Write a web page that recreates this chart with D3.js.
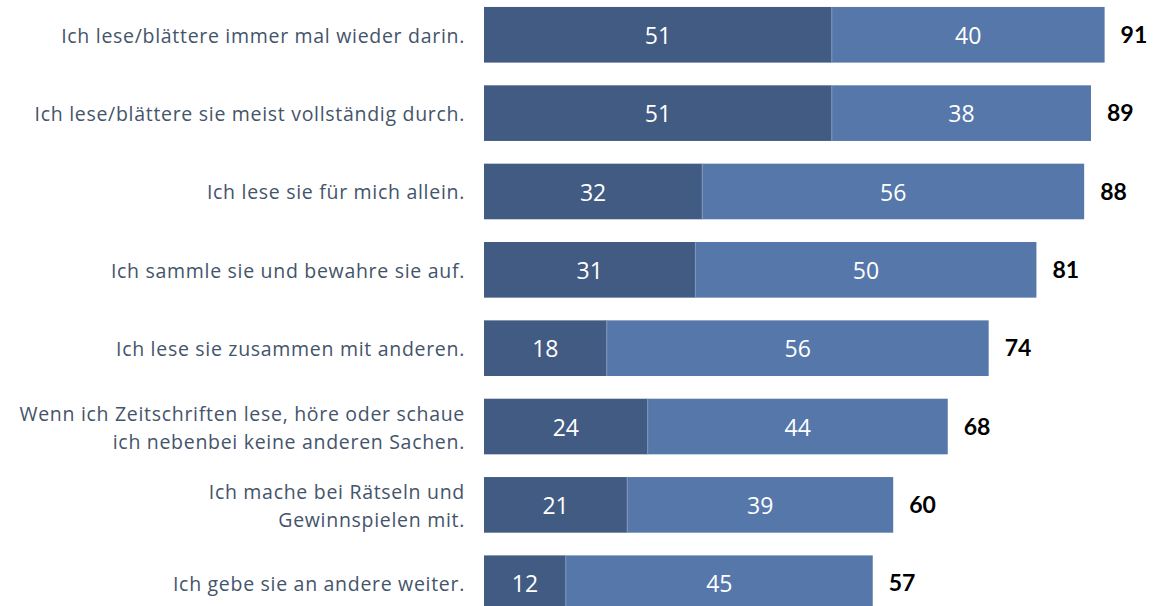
<!DOCTYPE html>
<html><head><meta charset="utf-8">
<script src="https://cdn.jsdelivr.net/npm/d3@7"></script>
<style>body{margin:0;background:#fff;} svg{display:block;}</style>
</head><body>
<svg id="chart" width="1154" height="606"></svg>
<script>
const categories = [
  ["Ich lese/blättere immer mal wieder darin."],
  ["Ich lese/blättere sie meist vollständig durch."],
  ["Ich lese sie für mich allein."],
  ["Ich sammle sie und bewahre sie auf."],
  ["Ich lese sie zusammen mit anderen."],
  ["Wenn ich Zeitschriften lese, höre oder schaue", "ich nebenbei keine anderen Sachen."],
  ["Ich mache bei Rätseln und", "Gewinnspielen mit."],
  ["Ich gebe sie an andere weiter."]
];
const seriesA = [51, 51, 32, 31, 18, 24, 21, 12];
const seriesB = [40, 38, 56, 50, 56, 44, 39, 45];
const totals  = [91, 89, 88, 81, 74, 68, 60, 57];

const svg = d3.select("#chart");
const x = d3.scaleLinear().domain([0, 100]).range([484, 484 + 682]);
const y = d3.scaleBand().domain(d3.range(categories.length)).range([-4, 622]).paddingInner(0.29).paddingOuter(0.14);

const colA = "#425B82", colB = "#5677AA";
const font = "'Open Sans', 'Noto Sans', sans-serif";
const boldFont = "Lato, 'Open Sans', sans-serif";

const rows = svg.selectAll("g.row").data(categories).join("g").attr("class","row");

rows.append("rect")
  .attr("x", x(0)).attr("y", (d,i)=>y(i))
  .attr("width", (d,i)=>x(seriesA[i])-x(0)).attr("height", y.bandwidth())
  .attr("fill", colA);
rows.append("rect")
  .attr("x", (d,i)=>x(seriesA[i])).attr("y", (d,i)=>y(i))
  .attr("width", (d,i)=>x(seriesA[i]+seriesB[i])-x(seriesA[i])).attr("height", y.bandwidth())
  .attr("fill", colB);
rows.append("line")
  .attr("x1", (d,i)=>x(seriesA[i])).attr("x2",(d,i)=>x(seriesA[i]))
  .attr("y1",(d,i)=>y(i)).attr("y2",(d,i)=>y(i)+y.bandwidth())
  .attr("stroke","#7f95bb").attr("stroke-width",1);

rows.append("text")
  .attr("x",(d,i)=>(x(0)+x(seriesA[i]))/2).attr("y",(d,i)=>y(i)+y.bandwidth()/2 + 1)
  .attr("dy","0.36em").attr("text-anchor","middle")
  .attr("fill","#fff").style("font-family",font).style("font-size","23px")
  .text((d,i)=>seriesA[i]);
rows.append("text")
  .attr("x",(d,i)=>(x(seriesA[i])+x(seriesA[i]+seriesB[i]))/2).attr("y",(d,i)=>y(i)+y.bandwidth()/2 + 1)
  .attr("dy","0.36em").attr("text-anchor","middle")
  .attr("fill","#fff").style("font-family",font).style("font-size","23px")
  .text((d,i)=>seriesB[i]);
rows.append("text")
  .attr("x",(d,i)=>x(totals[i])+16).attr("y",(d,i)=>y(i)+y.bandwidth()/2)
  .attr("dy","0.36em").attr("text-anchor","start")
  .attr("fill","#000").style("font-family",boldFont).style("font-size","23px").style("font-weight","bold")
  .text((d,i)=>totals[i]);

rows.each(function(d,i){
  const g = d3.select(this);
  const cy = y(i)+y.bandwidth()/2 + 1;
  const lh = 28;
  d.forEach((line,j)=>{
    g.append("text")
      .attr("x",465).attr("y", cy + (j-(d.length-1)/2)*lh)
      .attr("dy","0.36em").attr("text-anchor","end")
      .attr("fill","#44546A").style("font-family",font).style("font-size","19.5px")
      .style("letter-spacing","0.7px")
      .text(line);
  });
});
</script>
</body></html>
